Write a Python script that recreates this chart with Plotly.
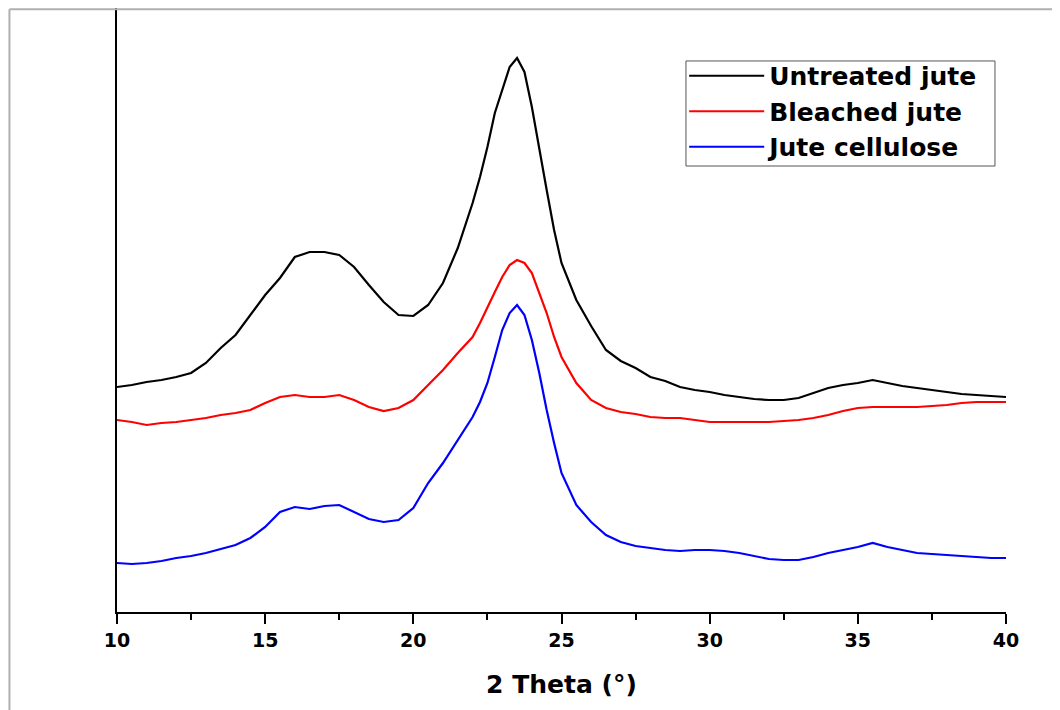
import plotly.graph_objects as go

# 2-theta positions (degrees)
two_theta = [10, 10.5, 11, 11.5, 12, 12.5, 13, 13.5, 14, 14.5, 15, 15.5, 16, 16.5, 17, 17.5,
             18, 18.5, 19, 19.5, 20, 20.5, 21, 21.5, 22, 22.25, 22.5, 22.75, 23, 23.25, 23.5,
             23.75, 24, 24.25, 24.5, 24.75, 25, 25.5, 26, 26.5, 27, 27.5, 28, 28.5, 29, 29.5,
             30, 30.5, 31, 31.5, 32, 32.5, 33, 33.5, 34, 34.5, 35, 35.5, 36, 36.5, 37, 37.5,
             38, 38.5, 39, 39.5, 40]

# intensities (arbitrary units, stacked as in the figure)
untreated = [225, 227, 230, 232, 235, 239, 249, 264, 277, 297, 317, 334, 355, 360, 360, 357,
             345, 327, 310, 297, 296, 307, 329, 364, 409, 435, 465, 499, 522, 545, 554,
             540, 505, 462, 422, 382, 349, 312, 286, 262, 251, 244, 235, 231, 225, 222,
             220, 217, 215, 213, 212, 212, 214, 219, 224, 227, 229, 232, 229, 226, 224, 222,
             220, 218, 217, 216, 215]
bleached = [192, 190, 187, 189, 190, 192, 194, 197, 199, 202, 209, 215, 217, 215, 215, 217,
            212, 205, 201, 204, 212, 227, 242, 259, 275, 289, 305, 320, 335, 347, 352,
            349, 339, 320, 299, 275, 255, 229, 212, 204, 200, 198, 195, 194, 194, 192,
            190, 190, 190, 190, 190, 191, 192, 194, 197, 201, 204, 205, 205, 205, 205, 206,
            207, 209, 210, 210, 210]
cellulose = [49, 48, 49, 51, 54, 56, 59, 63, 67, 74, 85, 100, 105, 103, 106, 107,
             100, 93, 90, 92, 104, 129, 149, 172, 195, 210, 229, 255, 282, 299, 307,
             297, 272, 239, 202, 169, 139, 107, 90, 77, 70, 66, 64, 62, 61, 62,
             62, 61, 59, 56, 53, 52, 52, 55, 59, 62, 65, 69, 65, 62, 59, 58,
             57, 56, 55, 54, 54]

series_names = ["Untreated jute", "Bleached jute", "Jute cellulose"]
series_values = [untreated, bleached, cellulose]
series_colors = ["#000000", "#ff0000", "#0000ff"]

x_ticks = [10, 15, 20, 25, 30, 35, 40]

fig = go.Figure()
for name, vals, col in zip(series_names, series_values, series_colors):
    fig.add_trace(go.Scatter(x=two_theta, y=vals, mode="lines", name=name,
                             line=dict(color=col, width=2.2)))

bold = dict(family="DejaVu Sans, sans-serif", color="black", weight="bold")

fig.update_layout(
    width=1060, height=710,
    margin=dict(l=109, r=62, t=0, b=106),
    paper_bgcolor="white", plot_bgcolor="white",
    showlegend=True,
    legend=dict(x=0.638, y=0.9255, xanchor="left", yanchor="top",
                borderwidth=0, bgcolor="rgba(255,255,255,0)",
                font=dict(size=25, **bold), itemwidth=75, tracegroupgap=0),
    xaxis=dict(range=[10, 40], tickvals=x_ticks, ticktext=[str(v) for v in x_ticks],
               showgrid=False, zeroline=False,
               showline=True, linecolor="black", linewidth=2,
               ticks="outside", ticklen=10, tickwidth=2, tickcolor="black",
               minor=dict(dtick=2.5, tick0=10, ticks="outside", ticklen=6, tickwidth=2,
                          tickcolor="black", showgrid=False),
               tickfont=dict(size=19, **bold),
               title=dict(text="2 Theta (°)", font=dict(size=25, **bold), standoff=26)),
    yaxis=dict(range=[0, 604], showgrid=False, zeroline=False,
               showline=True, linecolor="black", linewidth=2,
               showticklabels=False, ticks=""),
    shapes=[
        dict(type="line", xref="paper", yref="paper", x0=-0.121, x1=1.08, y0=0.998, y1=0.998,
             line=dict(color="#b0b0b0", width=2)),
        dict(type="line", xref="paper", yref="paper", x0=-0.121, x1=-0.121, y0=0.998, y1=-0.18,
             line=dict(color="#b0b0b0", width=2)),
        dict(type="rect", xref="paper", yref="paper", x0=0.640, x1=0.9876, y0=0.7384, y1=0.9123,
             line=dict(color="#555555", width=1)),
    ],
)

fig.write_html("out.html")
